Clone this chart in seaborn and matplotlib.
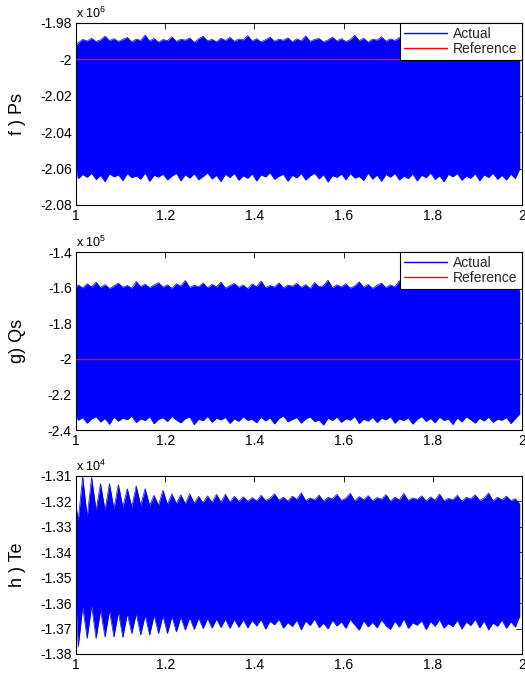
import numpy as np
import pandas as pd
import matplotlib
matplotlib.use("Agg")
import matplotlib.pyplot as plt
from matplotlib.lines import Line2D
import seaborn as sns

sns.set_theme(style="white")
plt.rcParams["font.family"] = ["Liberation Sans", "DejaVu Sans"]
plt.rcParams["mathtext.fontset"] = "custom"
plt.rcParams["mathtext.rm"] = "Liberation Sans"
plt.rcParams["mathtext.it"] = "Liberation Sans"

# ---------------- data ----------------
# sample times: 1.000, then 1.005, 1.015, ... 1.995
t = [1.000] + [round(1.005 + 0.01 * k, 3) for k in range(100)]

# f) Ps  (x 10^6) envelope of the fast oscillation
ps_upper = [
    -1.9920, -1.9908, -1.9890, -1.9899, -1.9884, -1.9902, -1.9893, -1.9872, -1.9897, -1.9886,
    -1.9901, -1.9890, -1.9879, -1.9904, -1.9888, -1.9896, -1.9866, -1.9899, -1.9885, -1.9905,
    -1.9891, -1.9897, -1.9876, -1.9901, -1.9889, -1.9894, -1.9882, -1.9906, -1.9887, -1.9873,
    -1.9898, -1.9890, -1.9903, -1.9884, -1.9896, -1.9879, -1.9900, -1.9888, -1.9893, -1.9869,
    -1.9899, -1.9886, -1.9904, -1.9892, -1.9877, -1.9900, -1.9889, -1.9895, -1.9881, -1.9903,
    -1.9887, -1.9898, -1.9871, -1.9901, -1.9890, -1.9885, -1.9904, -1.9893, -1.9878, -1.9899,
    -1.9886, -1.9902, -1.9891, -1.9868, -1.9897, -1.9884, -1.9905, -1.9889, -1.9894, -1.9876,
    -1.9900, -1.9887, -1.9896, -1.9880, -1.9903, -1.9890, -1.9874, -1.9898, -1.9885, -1.9901,
    -1.9892, -1.9879, -1.9904, -1.9888, -1.9895, -1.9870, -1.9899, -1.9886, -1.9902, -1.9891,
    -1.9877, -1.9900, -1.9889, -1.9896, -1.9883, -1.9905, -1.9888, -1.9873, -1.9898, -1.9890,
    -1.9930,
]
ps_lower = [
    -2.0600, -2.0655, -2.0632, -2.0648, -2.0625, -2.0660, -2.0638, -2.0672, -2.0629, -2.0645,
    -2.0635, -2.0666, -2.0627, -2.0650, -2.0640, -2.0658, -2.0624, -2.0670, -2.0636, -2.0647,
    -2.0630, -2.0662, -2.0641, -2.0626, -2.0667, -2.0634, -2.0652, -2.0628, -2.0661, -2.0643,
    -2.0623, -2.0657, -2.0637, -2.0671, -2.0631, -2.0649, -2.0626, -2.0664, -2.0639, -2.0653,
    -2.0629, -2.0668, -2.0634, -2.0646, -2.0622, -2.0659, -2.0642, -2.0631, -2.0669, -2.0637,
    -2.0651, -2.0627, -2.0663, -2.0640, -2.0625, -2.0656, -2.0633, -2.0674, -2.0638, -2.0648,
    -2.0630, -2.0661, -2.0627, -2.0652, -2.0643, -2.0666, -2.0624, -2.0658, -2.0635, -2.0670,
    -2.0632, -2.0647, -2.0626, -2.0663, -2.0641, -2.0655, -2.0629, -2.0668, -2.0636, -2.0650,
    -2.0623, -2.0660, -2.0639, -2.0672, -2.0631, -2.0645, -2.0627, -2.0664, -2.0642, -2.0653,
    -2.0628, -2.0667, -2.0634, -2.0649, -2.0625, -2.0659, -2.0637, -2.0662, -2.0630, -2.0655,
    -2.0600,
]
ps_ref = -2.0

# g) Qs  (x 10^5)
qs_upper = [
    -1.600, -1.585, -1.602, -1.578, -1.596, -1.570, -1.599, -1.583, -1.605, -1.590,
    -1.575, -1.598, -1.588, -1.603, -1.566, -1.594, -1.581, -1.600, -1.586, -1.572,
    -1.597, -1.584, -1.604, -1.579, -1.591, -1.560, -1.599, -1.587, -1.595, -1.574,
    -1.601, -1.582, -1.596, -1.569, -1.603, -1.589, -1.577, -1.598, -1.585, -1.606,
    -1.580, -1.594, -1.563, -1.600, -1.588, -1.597, -1.573, -1.602, -1.586, -1.592,
    -1.576, -1.599, -1.583, -1.605, -1.571, -1.595, -1.589, -1.558, -1.601, -1.584,
    -1.597, -1.578, -1.603, -1.590, -1.567, -1.598, -1.582, -1.604, -1.587, -1.575,
    -1.600, -1.585, -1.596, -1.562, -1.602, -1.590, -1.579, -1.599, -1.586, -1.607,
    -1.581, -1.595, -1.572, -1.601, -1.588, -1.597, -1.565, -1.603, -1.584, -1.594,
    -1.577, -1.600, -1.589, -1.604, -1.574, -1.598, -1.583, -1.602, -1.587, -1.592,
    -1.620,
]
qs_lower = [
    -2.320, -2.345, -2.330, -2.362, -2.338, -2.325, -2.355, -2.335, -2.368, -2.328,
    -2.350, -2.333, -2.342, -2.322, -2.358, -2.337, -2.347, -2.326, -2.365, -2.340,
    -2.331, -2.352, -2.324, -2.344, -2.360, -2.336, -2.327, -2.370, -2.339, -2.348,
    -2.323, -2.356, -2.334, -2.343, -2.329, -2.363, -2.337, -2.351, -2.325, -2.346,
    -2.340, -2.359, -2.328, -2.349, -2.332, -2.366, -2.335, -2.321, -2.354, -2.341,
    -2.330, -2.361, -2.338, -2.326, -2.353, -2.344, -2.372, -2.333, -2.347, -2.327,
    -2.357, -2.336, -2.345, -2.323, -2.364, -2.339, -2.350, -2.329, -2.358, -2.334,
    -2.343, -2.325, -2.362, -2.337, -2.348, -2.331, -2.367, -2.340, -2.324, -2.352,
    -2.335, -2.359, -2.328, -2.346, -2.338, -2.369, -2.332, -2.355, -2.326, -2.342,
    -2.361, -2.334, -2.349, -2.327, -2.357, -2.339, -2.345, -2.330, -2.364, -2.336,
    -2.310,
]
qs_ref = -2.0

# h) Te  (x 10^4)
te_upper = [
    -1.3220, -1.3274, -1.3103, -1.3261, -1.3105, -1.3235, -1.3130, -1.3235, -1.3130, -1.3229,
    -1.3134, -1.3222, -1.3150, -1.3222, -1.3139, -1.3215, -1.3150, -1.3215, -1.3176, -1.3215,
    -1.3156, -1.3212, -1.3170, -1.3209, -1.3174, -1.3209, -1.3170, -1.3207, -1.3180, -1.3205,
    -1.3178, -1.3204, -1.3172, -1.3203, -1.3172, -1.3202, -1.3180, -1.3200, -1.3182, -1.3199,
    -1.3185, -1.3198, -1.3176, -1.3196, -1.3188, -1.3170, -1.3195, -1.3183, -1.3199, -1.3179,
    -1.3192, -1.3166, -1.3197, -1.3186, -1.3194, -1.3175, -1.3199, -1.3184, -1.3190, -1.3172,
    -1.3196, -1.3187, -1.3168, -1.3198, -1.3181, -1.3193, -1.3177, -1.3197, -1.3185, -1.3191,
    -1.3173, -1.3199, -1.3183, -1.3194, -1.3169, -1.3196, -1.3186, -1.3192, -1.3178, -1.3198,
    -1.3182, -1.3195, -1.3171, -1.3197, -1.3188, -1.3193, -1.3176, -1.3199, -1.3184, -1.3190,
    -1.3174, -1.3196, -1.3187, -1.3167, -1.3198, -1.3183, -1.3194, -1.3179, -1.3197, -1.3189,
    -1.3210,
]
te_lower = [
    -1.3600, -1.3772, -1.3614, -1.3739, -1.3610, -1.3739, -1.3628, -1.3733, -1.3630, -1.3733,
    -1.3635, -1.3735, -1.3641, -1.3719, -1.3641, -1.3725, -1.3647, -1.3725, -1.3647, -1.3719,
    -1.3650, -1.3719, -1.3652, -1.3713, -1.3655, -1.3706, -1.3657, -1.3703, -1.3658, -1.3700,
    -1.3660, -1.3698, -1.3662, -1.3696, -1.3663, -1.3699, -1.3664, -1.3695, -1.3665, -1.3697,
    -1.3668, -1.3690, -1.3664, -1.3702, -1.3671, -1.3685, -1.3663, -1.3698, -1.3676, -1.3692,
    -1.3666, -1.3705, -1.3670, -1.3688, -1.3662, -1.3696, -1.3679, -1.3701, -1.3667, -1.3690,
    -1.3673, -1.3699, -1.3664, -1.3686, -1.3706, -1.3669, -1.3693, -1.3675, -1.3697, -1.3665,
    -1.3689, -1.3703, -1.3671, -1.3694, -1.3662, -1.3699, -1.3677, -1.3687, -1.3668, -1.3704,
    -1.3672, -1.3691, -1.3665, -1.3698, -1.3680, -1.3693, -1.3667, -1.3702, -1.3674, -1.3688,
    -1.3663, -1.3697, -1.3670, -1.3705, -1.3678, -1.3691, -1.3666, -1.3699, -1.3673, -1.3694,
    -1.3650,
]

x_ticks = [1, 1.2, 1.4, 1.6, 1.8, 2]
x_ticklabels = ["1", "1.2", "1.4", "1.6", "1.8", "2"]

ps_ticks = [-2.08, -2.06, -2.04, -2.02, -2.0, -1.98]
ps_ticklabels = ["-2.08", "-2.06", "-2.04", "-2.02", "-2", "-1.98"]
qs_ticks = [-2.4, -2.2, -2.0, -1.8, -1.6, -1.4]
qs_ticklabels = ["-2.4", "-2.2", "-2", "-1.8", "-1.6", "-1.4"]
te_ticks = [-1.38, -1.37, -1.36, -1.35, -1.34, -1.33, -1.32, -1.31]
te_ticklabels = ["-1.38", "-1.37", "-1.36", "-1.35", "-1.34", "-1.33", "-1.32", "-1.31"]

BLUE = "#0000ff"
RED = "#ff0000"

fig = plt.figure(figsize=(5.25, 6.73), dpi=100)
W, H = 525.0, 673.0
def add_axes(top_px, bottom_px):
    return fig.add_axes([76 / W, 1 - bottom_px / H, (522 - 76) / W, (bottom_px - top_px) / H])

ax1 = add_axes(23, 205)
ax2 = add_axes(252, 430)
ax3 = add_axes(476, 654)

panels = [
    (ax1, ps_upper, ps_lower, ps_ref, ps_ticks, ps_ticklabels, "f ) Ps", "6"),
    (ax2, qs_upper, qs_lower, qs_ref, qs_ticks, qs_ticklabels, "g) Qs", "5"),
    (ax3, te_upper, te_lower, None, te_ticks, te_ticklabels, "h ) Te", "4"),
]

for ax, up, lo, ref, yt, ytl, ylab, expo in panels:
    df = pd.DataFrame({"t": t, "upper": up, "lower": lo})
    ax.fill_between(df["t"], df["lower"], df["upper"], color=BLUE, linewidth=0, zorder=2)
    sns.lineplot(data=df, x="t", y="upper", ax=ax, color=BLUE, lw=0.5, sort=False,
                 estimator=None, legend=False, zorder=3)
    sns.lineplot(data=df, x="t", y="lower", ax=ax, color=BLUE, lw=0.5, sort=False,
                 estimator=None, legend=False, zorder=3)
    if ref is not None:
        rdf = pd.DataFrame({"t": [t[0], t[-1]], "ref": [ref, ref]})
        sns.lineplot(data=rdf, x="t", y="ref", ax=ax, color=RED, lw=1.0,
                     estimator=None, legend=False, zorder=4)
        handles = [Line2D([], [], color=BLUE, lw=1.0), Line2D([], [], color=RED, lw=1.0)]
        leg = ax.legend(handles, ["Actual", "Reference"], loc="upper right",
                        borderaxespad=0, fancybox=False, edgecolor="black",
                        framealpha=1, fontsize=10, handlelength=3.1,
                        borderpad=0.3, labelspacing=0.05, handletextpad=0.45)
        leg.get_frame().set_linewidth(0.8)
        leg.set_zorder(10)

    ax.set_xlim(1, 2)
    ax.set_ylim(yt[0], yt[-1])
    ax.set_xticks(x_ticks)
    ax.set_xticklabels(x_ticklabels)
    ax.set_yticks(yt)
    ax.set_yticklabels(ytl)
    ax.set_xlabel("")
    ax.set_ylabel(ylab, fontsize=13, color="black")
    ax.yaxis.set_label_coords(-0.112, 0.5)
    ax.tick_params(direction="in", length=4, width=0.6, top=True, right=True,
                   labelsize=10, colors="black", pad=3)
    for s in ax.spines.values():
        s.set_visible(True)
        s.set_color("black")
        s.set_linewidth(0.8)
    ax.set_facecolor("white")
    ax.text(0.0, 1.012, r"x 10$^{%s}$" % expo, transform=ax.transAxes,
            ha="left", va="bottom", fontsize=9, color="black")

fig.savefig("out.png", dpi=100, facecolor="white")
